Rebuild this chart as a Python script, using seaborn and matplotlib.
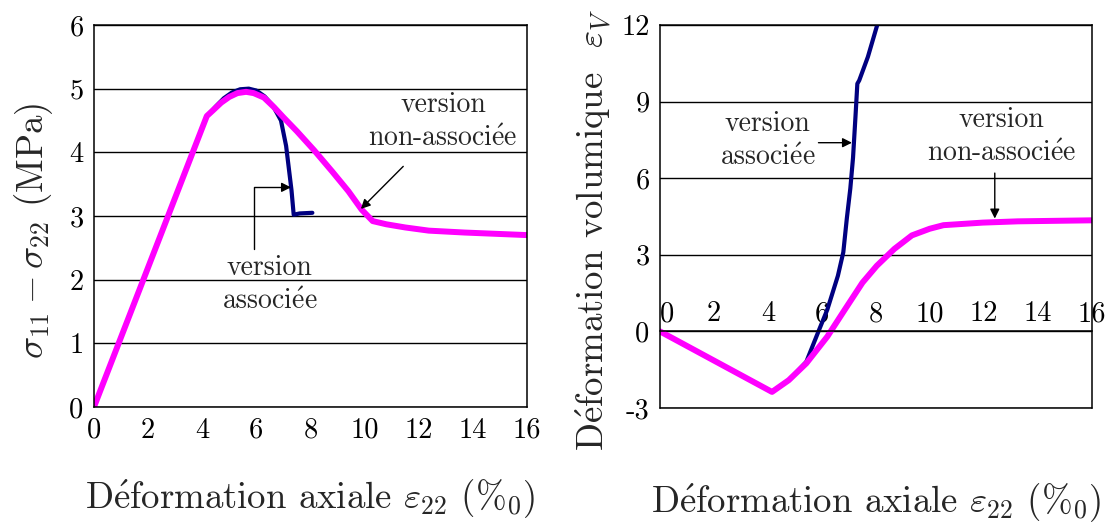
import pandas as pd
import matplotlib
matplotlib.use("Agg")
import matplotlib.pyplot as plt
import seaborn as sns

# Left panel: deviatoric stress vs axial strain
x_na_left = [0, 4.17, 4.4, 4.7, 5.0, 5.3, 5.62, 5.9, 6.28, 6.65, 7.0, 7.5, 8.14, 8.8, 9.4, 9.89, 10.3,
             10.8, 11.5, 12.37, 13.7, 16.0]
y_na_left = [0, 4.57, 4.66, 4.78, 4.87, 4.93, 4.95, 4.93, 4.86, 4.71, 4.55, 4.33, 4.03, 3.70, 3.39, 3.10, 2.92,
             2.87, 2.82, 2.77, 2.74, 2.70]
x_as_left = [4.17, 4.5, 4.8, 5.1, 5.4, 5.72, 6.0, 6.3, 6.6, 6.91, 7.1, 7.2, 7.3, 7.38, 7.6, 8.07]
y_as_left = [4.57, 4.72, 4.85, 4.94, 4.99, 5.0, 4.97, 4.88, 4.74, 4.5, 4.1, 3.75, 3.4, 3.02, 3.04, 3.05]

# Right panel: volumetric strain vs axial strain
x_na_right = [0, 4.15, 4.77, 5.42, 6.2, 6.85, 7.5, 8.03, 8.68, 9.33, 9.99, 10.5, 11.95, 13.25, 16.0]
y_na_right = [0, -2.37, -1.91, -1.25, -0.2, 0.86, 1.91, 2.57, 3.23, 3.76, 4.02, 4.16, 4.26, 4.31, 4.35]
x_as_right = [4.15, 4.77, 5.42, 5.87, 6.2, 6.59, 6.79, 6.92, 7.05, 7.15, 7.24, 7.31, 7.38, 7.7, 8.03, 8.1]
y_as_right = [-2.37, -1.91, -1.19, 0, 0.86, 2.18, 3.1, 4.42, 5.6, 6.8, 8.4, 9.7, 9.83, 10.75, 11.94, 12.2]

x_ticks = [0, 2, 4, 6, 8, 10, 12, 14, 16]
y_ticks_left = [0, 1, 2, 3, 4, 5, 6]
y_ticks_right = [-3, 0, 3, 6, 9, 12]

MAGENTA = "#FF00FF"
NAVY = "#000080"

E_ACUTE = r'$\mathrm{\acute{e}}$'
XLABEL = 'D' + E_ACUTE + 'formation axiale $\\varepsilon_{22}$ (%$_0$)'
YLABEL_R = 'D' + E_ACUTE + 'formation volumique  $\\varepsilon_V$'
NOTE_AS = 'version\nassoci' + E_ACUTE + 'e'
NOTE_NA = 'version\nnon-associ' + E_ACUTE + 'e'

sns.set_theme(style="white")
plt.rcParams['font.family'] = ['cmr10', 'DejaVu Serif']
plt.rcParams['mathtext.fontset'] = 'cm'
plt.rcParams['axes.unicode_minus'] = False
plt.rcParams['axes.edgecolor'] = 'black'
plt.rcParams['axes.linewidth'] = 1.1

fig = plt.figure(figsize=(11.12, 5.27), dpi=100)
ax1 = fig.add_axes([0.0845, 0.2277, 0.3894, 0.7249])
ax2 = fig.add_axes([0.5935, 0.2258, 0.3885, 0.7268])

TICK_FS = 20.5
LABEL_FS = 26.5
NOTE_FS = 20


def draw_series(ax, xs, ys, color, lw):
    df = pd.DataFrame({'x': xs, 'y': ys})
    sns.lineplot(data=df, x='x', y='y', sort=False, estimator=None,
                 color=color, lw=lw, ax=ax, solid_capstyle='round')


# ---- left panel
draw_series(ax1, x_as_left, y_as_left, NAVY, 3.0)
draw_series(ax1, x_na_left, y_na_left, MAGENTA, 4.3)
ax1.set_xlim(0, 16)
ax1.set_ylim(0, 6)
ax1.set_xticks(x_ticks)
ax1.set_xticklabels([str(v) for v in x_ticks], fontsize=TICK_FS)
ax1.set_yticks(y_ticks_left)
ax1.set_yticklabels([str(v) for v in y_ticks_left], fontsize=TICK_FS)
ax1.yaxis.grid(True, color='black', lw=1.0)
ax1.tick_params(direction='out', length=4, width=1, color='black', colors='black')
ax1.set_xlabel(XLABEL, fontsize=LABEL_FS, labelpad=24)
ax1.set_ylabel('$\\sigma_{11} - \\sigma_{22}$ (MPa)', fontsize=LABEL_FS, labelpad=10)
ax1.yaxis.label.set_y(0.46)

ax1.text(12.9, 4.48, NOTE_NA, ha='center', va='center',
         fontsize=NOTE_FS, linespacing=1.35)
ax1.annotate('', xy=(9.79, 3.08), xytext=(11.5, 3.81),
             arrowprops=dict(arrowstyle='-|>', color='black', lw=1.0, mutation_scale=14))
ax1.text(6.48, 1.92, NOTE_AS, ha='center', va='center',
         fontsize=NOTE_FS, linespacing=1.35)
ax1.annotate('', xy=(7.28, 3.45), xytext=(5.91, 2.48),
             arrowprops=dict(arrowstyle='-|>', color='black', lw=1.0, mutation_scale=14,
                             connectionstyle='angle,angleA=90,angleB=0,rad=0',
                             shrinkA=0, shrinkB=0))

# ---- right panel
draw_series(ax2, x_as_right, y_as_right, NAVY, 3.0)
draw_series(ax2, x_na_right, y_na_right, MAGENTA, 4.3)
ax2.set_xlim(0, 16)
ax2.set_ylim(-3, 12)
ax2.spines['bottom'].set_position(('data', 0))
ax2.axhline(-3, color='black', lw=1.1, clip_on=False)
ax2.set_xticks(x_ticks)
ax2.set_xticklabels([str(v) for v in x_ticks], fontsize=TICK_FS)
ax2.get_xticklabels()[0].set_horizontalalignment('left')
ax2.set_yticks(y_ticks_right)
ax2.set_yticklabels([str(v) for v in y_ticks_right], fontsize=TICK_FS)
ax2.yaxis.grid(True, color='black', lw=1.0)
ax2.tick_params(direction='out', length=4, width=1, color='black', colors='black')
ax2.tick_params(axis='x', pad=-26)
ax2.set_xlabel(XLABEL, fontsize=LABEL_FS)
ax2.xaxis.set_label_coords(0.5, -0.19)
ax2.set_ylabel(YLABEL_R, fontsize=LABEL_FS, labelpad=6)
ax2.yaxis.label.set_y(0.465)

ax2.text(3.98, 7.47, NOTE_AS, ha='center', va='center',
         fontsize=NOTE_FS, linespacing=1.35)
ax2.annotate('', xy=(7.11, 7.39), xytext=(5.87, 7.39),
             arrowprops=dict(arrowstyle='-|>', color='black', lw=1.0, mutation_scale=14,
                             shrinkA=0, shrinkB=0))
ax2.text(12.66, 7.62, NOTE_NA, ha='center', va='center',
         fontsize=NOTE_FS, linespacing=1.35)
ax2.annotate('', xy=(12.4, 4.42), xytext=(12.4, 6.2),
             arrowprops=dict(arrowstyle='-|>', color='black', lw=1.0, mutation_scale=14,
                             shrinkA=0, shrinkB=0))

fig.savefig('out.png', dpi=100)
plt.close(fig)
